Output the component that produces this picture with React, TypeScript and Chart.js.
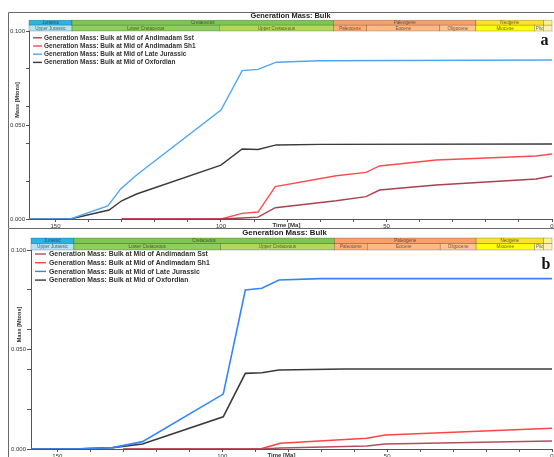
import React, { useEffect, useRef } from 'react';
import { Chart, registerables } from 'chart.js';
Chart.register(...registerables);

const chartTitle = 'Generation Mass: Bulk';
const yAxisTitle = 'Mass [Mtons]';
const xAxisTitle = 'Time [Ma]';
const seriesLabels = [
  'Generation Mass: Bulk at Mid of Andimadam Sst',
  'Generation Mass: Bulk at Mid of Andimadam Sh1',
  'Generation Mass: Bulk at Mid of Late Jurassic',
  'Generation Mass: Bulk at Mid of Oxfordian',
];

// Panel a
const aSstTime = [130, 100, 93.6, 88.8, 83.6, 65.2, 56.2, 52.1, 35, 4.8, 0];
const aSstMass = [0, 0, 0.0005, 0.001, 0.006, 0.0097, 0.0119, 0.0154, 0.0181, 0.0213, 0.0229];
const aSh1Time = [130, 100, 93.6, 88.8, 83.6, 65.2, 56.2, 52.1, 35, 4.8, 0];
const aSh1Mass = [0, 0, 0.003, 0.0037, 0.0172, 0.023, 0.0248, 0.0282, 0.0314, 0.0335, 0.0346];
const aLateJurTime = [158, 145.5, 134.2, 130.3, 125.5, 100, 93.6, 88.8, 83.3, 70.3, 0];
const aLateJurMass = [0, 0, 0.0069, 0.016, 0.0234, 0.058, 0.0789, 0.0796, 0.0834, 0.0842, 0.0846];
const aOxfTime = [158, 145.5, 133.8, 130, 125.5, 100, 93.6, 88.8, 83.3, 70, 0];
const aOxfMass = [0, 0, 0.0048, 0.0097, 0.0133, 0.0287, 0.0372, 0.037, 0.0394, 0.0397, 0.0399];

// Panel b
const bSstTime = [130, 88, 82.4, 56.2, 50.6, 0];
const bSstMass = [0, 0, 0.0005, 0.0015, 0.0025, 0.004];
const bSh1Time = [130, 88, 82.4, 56.2, 50.6, 0];
const bSh1Mass = [0, 0.0002, 0.0029, 0.0054, 0.007, 0.0104];
const bLateJurTime = [158, 145, 133.2, 124.2, 99.7, 93, 88, 82.8, 70.3, 0];
const bLateJurMass = [0, 0, 0.0007, 0.0037, 0.0276, 0.0799, 0.0808, 0.0849, 0.0856, 0.0856];
const bOxfTime = [158, 145, 133.2, 124.2, 99.7, 93, 88, 82.8, 63, 0];
const bOxfMass = [0, 0, 0.0007, 0.0025, 0.0162, 0.038, 0.0383, 0.0397, 0.0402, 0.0402];

// Axes
const xMin = 0;
const xMax = 158;
const xTickValues = [0, 10, 20, 30, 40, 50, 60, 70, 80, 90, 100, 110, 120, 130, 140, 150];
const yMin = 0;
const yMax = 0.1;
const yTickValues = [0, 0.02, 0.04, 0.05, 0.06, 0.08, 0.1];

// Geologic time scale
const periodNames = ['Jurassic', 'Cretaceous', 'Paleogene', 'Neogene', 'Quaternary'];
const periodBounds = [201.3, 145, 66, 23, 2.58, 0];
const periodColors = ['#2AB3E6', '#7DC652', '#F7A06C', '#FFE030', '#FAF28A'];
const epochNames = ['Upper Jurassic', 'Lower Cretaceous', 'Upper Cretaceous', 'Paleocene', 'Eocene', 'Oligocene', 'Miocene', 'Pliocene', 'Pleistocene'];
const epochBounds = [163.5, 145, 100.5, 66, 56, 33.9, 23, 5.33, 2.58, 0];
const epochColors = ['#B5E3F2', '#8ECD5E', '#B2D85A', '#FDB07A', '#FDBA86', '#FDC594', '#FFFF10', '#FFF6B0', '#FFF2B8'];

const SANS = '"Liberation Sans", Arial, sans-serif';
const SERIF = '"Liberation Serif", "Times New Roman", serif';

type PanelCfg = {
  times: number[][];
  masses: number[][];
  colors: string[];
  canvasH: number;
  top: number;
  padTop: number;
  yAxisW: number;
  xAxisH: number;
  tickLen: number;
  frameY: number;
  titleDy: number;
  titleShift: number;
  titleFont: number;
  tsH: number;
  tsRow1: number;
  legendFont: number;
  legendDy: number;
  legendRow: number;
  legendLine: [number, number];
  legendText: number;
  yTitleX: number;
  yTitleDy: number;
  xTitleShift: number;
  letter: string;
  letterX: number;
  letterY: number;
  lineW: number;
};

const panelA: PanelCfg = {
  times: [aSstTime, aSh1Time, aLateJurTime, aOxfTime],
  masses: [aSstMass, aSh1Mass, aLateJurMass, aOxfMass],
  colors: ['#A8424E', '#FF4B4E', '#4EA6F6', '#3A3A3A'],
  canvasH: 228,
  top: 0,
  padTop: 31,
  yAxisW: 21,
  xAxisH: 9,
  tickLen: 3,
  frameY: 12,
  titleDy: -15,
  titleShift: 0,
  titleFont: 7.4,
  tsH: 10.8,
  tsRow1: 5,
  legendFont: 6.5,
  legendDy: 6.8,
  legendRow: 8.2,
  legendLine: [4, 13],
  legendText: 15,
  yTitleX: 17,
  yTitleDy: -25,
  xTitleShift: -4,
  letter: 'a',
  letterX: 540.5,
  letterY: 45,
  lineW: 1.4,
};

const panelB: PanelCfg = {
  times: [bSstTime, bSh1Time, bLateJurTime, bOxfTime],
  masses: [bSstMass, bSh1Mass, bLateJurMass, bOxfMass],
  colors: ['#B0505C', '#FF4444', '#3385FF', '#3A3A3A'],
  canvasH: 229,
  top: 228,
  padTop: 22,
  yAxisW: 23,
  xAxisH: 8,
  tickLen: 4,
  frameY: 0,
  titleDy: -17,
  titleShift: -7,
  titleFont: 7.8,
  tsH: 12,
  tsRow1: 5.7,
  legendFont: 6.9,
  legendDy: 4,
  legendRow: 8.7,
  legendLine: [4, 15],
  legendText: 18,
  yTitleX: 19,
  yTitleDy: -25,
  xTitleShift: -10,
  letter: 'b',
  letterX: 541.5,
  letterY: 40.7,
  lineW: 1.6,
};

function drawRow(ctx: CanvasRenderingContext2D, xs: any, area: any, names: string[], bounds: number[], colors: string[], y: number, h: number) {
  for (let i = 0; i < names.length; i++) {
    let x0 = xs.getPixelForValue(bounds[i]);
    let x1 = xs.getPixelForValue(bounds[i + 1]);
    if (x0 > x1) { const t = x0; x0 = x1; x1 = t; }
    x0 = Math.max(x0, area.left);
    x1 = Math.min(x1, area.right);
    if (x1 <= x0) continue;
    ctx.fillStyle = colors[i];
    ctx.fillRect(x0, y, x1 - x0, h);
    ctx.strokeStyle = 'rgba(0,0,0,0.35)';
    ctx.lineWidth = 0.6;
    ctx.strokeRect(x0, y, x1 - x0, h);
    if (x1 - x0 < 9) continue;
    ctx.save();
    ctx.beginPath();
    ctx.rect(x0, y, x1 - x0, h);
    ctx.clip();
    ctx.font = `4.6px ${SANS}`;
    ctx.fillStyle = 'rgba(40,40,40,0.7)';
    ctx.textBaseline = 'middle';
    const w = ctx.measureText(names[i]).width;
    if (w < x1 - x0 - 2) {
      ctx.textAlign = 'center';
      ctx.fillText(names[i], (x0 + x1) / 2, y + h / 2 + 0.3);
    } else {
      ctx.textAlign = 'left';
      ctx.fillText(names[i], x0 + 1.5, y + h / 2 + 0.3);
    }
    ctx.restore();
  }
}

function makeDecorPlugin(cfg: PanelCfg) {
  return {
    id: 'decor',
    afterDraw(chart: any) {
      const ctx: CanvasRenderingContext2D = chart.ctx;
      const a = chart.chartArea;
      const xs = chart.scales.x;
      ctx.save();
      // frame
      ctx.strokeStyle = '#6a6a6a';
      ctx.lineWidth = 1;
      ctx.beginPath();
      ctx.moveTo(chart.width, cfg.frameY + 0.5);
      ctx.lineTo(8.5, cfg.frameY + 0.5);
      ctx.lineTo(8.5, chart.height);
      ctx.stroke();
      // title
      ctx.font = `bold ${cfg.titleFont}px ${SANS}`;
      ctx.fillStyle = '#222';
      ctx.textAlign = 'center';
      ctx.textBaseline = 'middle';
      ctx.fillText(chartTitle, (a.left + a.right) / 2 + cfg.titleShift, a.top + cfg.titleDy);
      // time scale
      const tsTop = a.top - cfg.tsH;
      drawRow(ctx, xs, a, periodNames, periodBounds, periodColors, tsTop, cfg.tsRow1);
      drawRow(ctx, xs, a, epochNames, epochBounds, epochColors, tsTop + cfg.tsRow1, cfg.tsH - cfg.tsRow1);
      // legend
      ctx.font = `bold ${cfg.legendFont}px ${SANS}`;
      ctx.textAlign = 'left';
      ctx.textBaseline = 'middle';
      seriesLabels.forEach((lab, i) => {
        const y = a.top + cfg.legendDy + i * cfg.legendRow;
        ctx.strokeStyle = cfg.colors[i];
        ctx.lineWidth = 1.4;
        ctx.beginPath();
        ctx.moveTo(a.left + cfg.legendLine[0], y);
        ctx.lineTo(a.left + cfg.legendLine[1], y);
        ctx.stroke();
        ctx.fillStyle = '#333';
        ctx.fillText(lab, a.left + cfg.legendText, y + 0.3);
      });
      // y title
      ctx.save();
      ctx.font = `bold 5.6px ${SANS}`;
      ctx.fillStyle = '#333';
      ctx.translate(cfg.yTitleX, (a.top + a.bottom) / 2 + cfg.yTitleDy);
      ctx.rotate(-Math.PI / 2);
      ctx.textAlign = 'center';
      ctx.textBaseline = 'middle';
      ctx.fillText(yAxisTitle, 0, 0);
      ctx.restore();
      // x title
      ctx.font = `bold 6px ${SANS}`;
      ctx.fillStyle = '#333';
      ctx.textAlign = 'center';
      ctx.textBaseline = 'middle';
      ctx.fillText(xAxisTitle, (a.left + a.right) / 2 + cfg.xTitleShift, a.bottom + 6.6);
      // panel letter
      ctx.font = `bold 16px ${SERIF}`;
      ctx.fillStyle = '#111';
      ctx.textAlign = 'left';
      ctx.textBaseline = 'alphabetic';
      ctx.fillText(cfg.letter, cfg.letterX, cfg.letterY);
      ctx.restore();
    },
  };
}

function Panel({ cfg }: { cfg: PanelCfg }) {
  const ref = useRef<HTMLCanvasElement | null>(null);
  useEffect(() => {
    if (!ref.current) return;
    const datasets = seriesLabels.map((lab, i) => ({
      label: lab,
      data: cfg.times[i].map((t, j) => ({ x: t, y: cfg.masses[i][j] })),
      borderColor: cfg.colors[i],
      backgroundColor: cfg.colors[i],
      borderWidth: cfg.lineW,
      pointRadius: 0,
      tension: 0,
      fill: false,
    }));
    const chart = new Chart(ref.current, {
      type: 'line',
      data: { datasets },
      plugins: [makeDecorPlugin(cfg)],
      options: {
        animation: false,
        responsive: false,
        maintainAspectRatio: false,
        layout: { padding: { top: cfg.padTop, left: 8, right: 2, bottom: 0 } },
        plugins: { legend: { display: false }, tooltip: { enabled: false }, title: { display: false } },
        scales: {
          x: {
            type: 'linear',
            reverse: true,
            min: xMin,
            max: xMax,
            afterBuildTicks: (s: any) => { s.ticks = xTickValues.map((v) => ({ value: v })); },
            afterFit: (s: any) => { s.height = cfg.xAxisH; },
            ticks: {
              autoSkip: false,
              maxRotation: 0,
              padding: 1,
              color: '#333',
              font: { size: 6, family: SANS },
              callback: (v: any) => (Math.round(Number(v)) % 50 === 0 ? String(v) : ''),
            },
            grid: { display: true, drawOnChartArea: false, tickLength: 3, color: '#555' },
            border: { display: true, color: '#555', width: 1 },
          },
          y: {
            type: 'linear',
            min: yMin,
            max: yMax,
            afterBuildTicks: (s: any) => { s.ticks = yTickValues.map((v) => ({ value: v })); },
            afterFit: (s: any) => { s.width = cfg.yAxisW; },
            ticks: {
              autoSkip: false,
              padding: 1,
              color: '#333',
              font: { size: 6, family: SANS },
              callback: (v: any) => (Math.round(Number(v) * 1000) % 50 === 0 ? Number(v).toFixed(3) : ''),
            },
            grid: { display: true, drawOnChartArea: false, tickLength: cfg.tickLen, color: '#555' },
            border: { display: true, color: '#555', width: 1 },
          },
        },
      } as any,
    });
    return () => chart.destroy();
  }, [cfg]);
  return (
    <canvas
      ref={ref}
      width={554}
      height={cfg.canvasH}
      style={{ position: 'absolute', left: 0, top: cfg.top, width: 554, height: cfg.canvasH }}
    />
  );
}

export default function App() {
  return (
    <div style={{ position: 'absolute', left: 0, top: 0, width: 554, height: 457, background: '#fff', overflow: 'hidden' }}>
      <Panel cfg={panelA} />
      <Panel cfg={panelB} />
    </div>
  );
}
